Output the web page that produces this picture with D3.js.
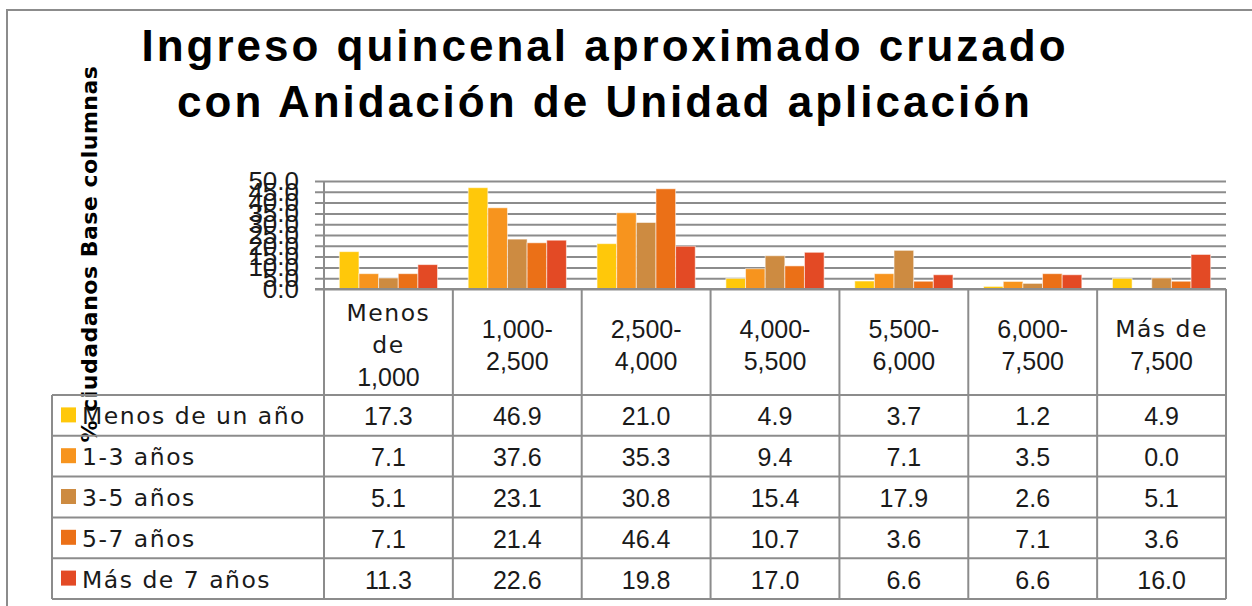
<!DOCTYPE html>
<html>
<head>
<meta charset="utf-8">
<script src="https://cdn.jsdelivr.net/npm/d3@7"></script>
<style>
  html, body { margin: 0; padding: 0; background: #fff; }
  .word { font-family: 'DejaVu Sans', sans-serif; font-size: 23.5px; letter-spacing: 1.5px; fill: #1a1a1a; }
  .num { font-family: 'Liberation Sans', Arial, sans-serif; font-size: 25px; fill: #1a1a1a; }
</style>
</head>
<body>
<div class="js-container"></div>
<script>
;(function() {
  'use strict';

  // Categories of the x axis (line breaks as in the data table header).
  var categories = ['Menos\nde\n1,000', '1,000-\n2,500', '2,500-\n4,000', '4,000-\n5,500',
                    '5,500-\n6,000', '6,000-\n7,500', 'Más de\n7,500'];

  var seriesNames = ['Menos de un año', '1-3 años', '3-5 años', '5-7 años', 'Más de 7 años'];

  var menosUnAno  = [17.3, 46.9, 21.0, 4.9, 3.7, 1.2, 4.9];
  var unoTres     = [7.1, 37.6, 35.3, 9.4, 7.1, 3.5, 0.0];
  var tresCinco   = [5.1, 23.1, 30.8, 15.4, 17.9, 2.6, 5.1];
  var cincoSiete  = [7.1, 21.4, 46.4, 10.7, 3.6, 7.1, 3.6];
  var masSiete    = [11.3, 22.6, 19.8, 17.0, 6.6, 6.6, 16.0];

  var yTicks = [0, 5, 10, 15, 20, 25, 30, 35, 40, 45, 50];

  var colors = ['#ffc80a', '#f7941e', '#cd8b41', '#eb7017', '#e34a25'];

  var series = [menosUnAno, unoTres, tresCinco, cincoSiete, masSiete];

  var W = 1252, H = 606;
  var plotL = 324, plotR = 1226, plotT = 181, plotB = 289;
  var tableL = 52, headB = 395, tableB = 599;
  var gray = '#8c8c8c';

  var svg = d3.select('.js-container').append('svg')
              .attr('width', W)
              .attr('height', H);

  // chart frame
  svg.append('rect')
      .attr('x', 7).attr('y', 10)
      .attr('width', W + 20).attr('height', H + 20)
      .attr('fill', 'none')
      .attr('stroke', gray)
      .attr('stroke-width', 2);

  // title
  var title = svg.append('text')
      .attr('text-anchor', 'middle')
      .style('font-family', "'Liberation Sans', Arial, sans-serif")
      .style('font-weight', 'bold')
      .style('font-size', '44px')
      .style('letter-spacing', '3px')
      .attr('fill', '#000');
  title.append('tspan').attr('x', 605).attr('y', 61).text('Ingreso quincenal aproximado cruzado');
  title.append('tspan').attr('x', 605).attr('y', 117).text('con Anidación de Unidad aplicación');

  // y axis title
  svg.append('text')
      .attr('transform', 'translate(97,254) rotate(-90)')
      .attr('text-anchor', 'middle')
      .style('font-family', "'DejaVu Sans', sans-serif")
      .style('font-weight', 'bold')
      .style('font-size', '22px')
      .style('letter-spacing', '0.5px')
      .attr('fill', '#000')
      .text('% ciudadanos Base columnas');

  var x0 = d3.scaleBand()
      .domain(categories)
      .range([plotL, plotR])
      .paddingInner(0)
      .paddingOuter(0);

  var x1 = d3.scaleBand()
      .domain(seriesNames)
      .range([0, x0.bandwidth()])
      .paddingInner(0)
      .paddingOuter(0.78);

  var y = d3.scaleLinear()
      .domain([0, 50])
      .range([plotB, plotT]);

  var rowY = d3.scaleBand()
      .domain(seriesNames)
      .range([headB, tableB]);

  // gridlines + tick labels
  var yAxis = svg.append('g')
      .attr('transform', 'translate(' + plotL + ',0)')
      .call(d3.axisLeft(y)
              .tickValues(yTicks)
              .tickFormat(d3.format('.1f'))
              .tickSizeInner(-(plotR - plotL))
              .tickSizeOuter(0)
              .tickPadding(25));
  yAxis.select('.domain').remove();
  yAxis.selectAll('.tick line')
      .attr('x1', -9)
      .attr('stroke', gray)
      .attr('stroke-width', 2);
  yAxis.selectAll('.tick text')
      .attr('class', 'num')
      .attr('fill', '#1a1a1a')
      .style('font-size', '26px');

  // bars
  var groups = svg.append('g').selectAll('g')
      .data(series)
      .join('g')
        .attr('fill', function(d, i) { return colors[i]; });

  groups.selectAll('rect')
      .data(function(vals, i) {
        return vals.map(function(v, j) { return {s: seriesNames[i], c: categories[j], v: v}; });
      })
      .join('rect')
        .attr('x', function(d) { return x0(d.c) + x1(d.s); })
        .attr('y', function(d) { return y(d.v); })
        .attr('width', x1.bandwidth())
        .attr('height', function(d) { return y(0) - y(d.v); })
        .attr('stroke', 'rgba(255,255,255,0.55)')
        .attr('stroke-width', 1);

  // table lines
  var lines = svg.append('g')
      .attr('stroke', gray)
      .attr('stroke-width', 2);

  // y axis line
  lines.append('line')
      .attr('x1', plotL).attr('x2', plotL)
      .attr('y1', plotT).attr('y2', tableB);

  // horizontal axis line
  lines.append('line')
      .attr('x1', plotL - 9).attr('x2', plotR)
      .attr('y1', plotB).attr('y2', plotB);

  // column boundaries
  lines.selectAll('.col')
      .data(categories)
      .join('line')
        .attr('x1', function(d) { return x0(d) + x0.bandwidth(); })
        .attr('x2', function(d) { return x0(d) + x0.bandwidth(); })
        .attr('y1', plotB).attr('y2', tableB);

  // row boundaries
  var rowEdges = [headB].concat(seriesNames.map(function(s) { return rowY(s) + rowY.bandwidth(); }));
  lines.selectAll('.row')
      .data(rowEdges)
      .join('line')
        .attr('x1', tableL).attr('x2', plotR)
        .attr('y1', function(d) { return d; })
        .attr('y2', function(d) { return d; });

  lines.append('line')
      .attr('x1', tableL).attr('x2', tableL)
      .attr('y1', headB).attr('y2', tableB);

  // category header labels
  var lineH = 32;
  categories.forEach(function(c) {
    var parts = c.split('\n');
    var cy = (plotB + headB) / 2 + 3;
    var t = svg.append('text')
        .attr('text-anchor', 'middle')
        .attr('dominant-baseline', 'central');
    parts.forEach(function(p, k) {
      t.append('tspan')
          .attr('class', /\d/.test(p) ? 'num' : 'word')
          .attr('x', x0(c) + x0.bandwidth() / 2)
          .attr('y', cy + (k - (parts.length - 1) / 2) * lineH)
          .text(p);
    });
  });

  // legend column
  var legend = svg.append('g').selectAll('g')
      .data(seriesNames)
      .join('g')
        .attr('transform', function(d) { return 'translate(0,' + (rowY(d) + rowY.bandwidth() / 2) + ')'; });

  legend.append('rect')
      .attr('x', 61).attr('y', -8)
      .attr('width', 15).attr('height', 15)
      .attr('fill', function(d, i) { return colors[i]; });

  legend.append('text')
      .attr('class', 'word')
      .attr('x', 82)
      .attr('y', 1)
      .attr('dominant-baseline', 'central')
      .text(function(d) { return d; });

  // values in table
  series.forEach(function(vals, i) {
    svg.append('g').selectAll('text')
        .data(vals)
        .join('text')
          .attr('class', 'num')
          .attr('text-anchor', 'middle')
          .attr('dominant-baseline', 'central')
          .attr('x', function(d, j) { return x0(categories[j]) + x0.bandwidth() / 2; })
          .attr('y', rowY(seriesNames[i]) + rowY.bandwidth() / 2 + 1)
          .text(function(d) { return d3.format('.1f')(d); });
  });

}());
</script>
</body>
</html>
